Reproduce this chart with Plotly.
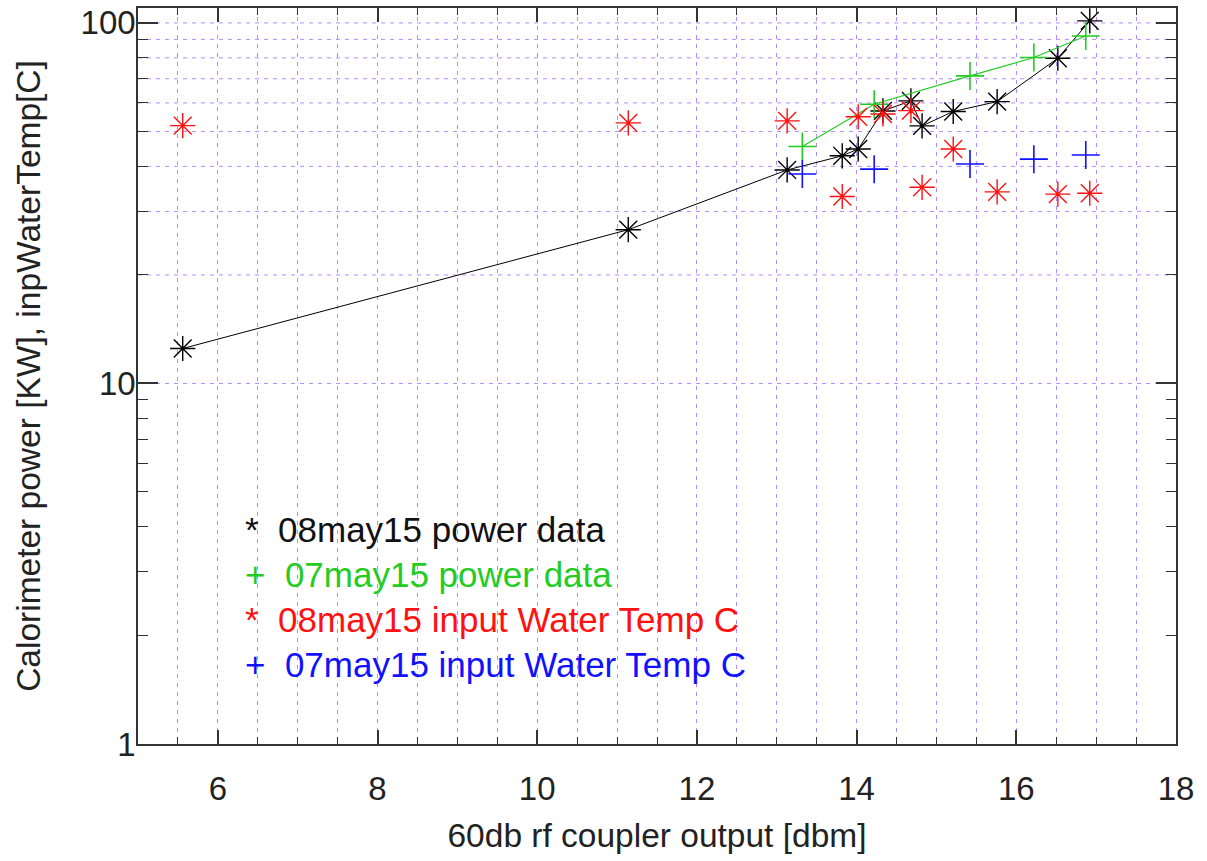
import plotly.graph_objects as go
import math

# ---- data ----
x_0508 = [5.56, 11.14, 13.13, 13.82, 14.02, 14.33, 14.68, 14.82, 15.21, 15.76, 16.52, 16.92]
power_0508 = [12.5, 26.7, 39.1, 42.8, 44.7, 57.0, 60.8, 51.8, 56.8, 60.5, 79.8, 101.3]
water_0508 = [51.9, 52.8, 53.5, 33.0, 54.9, 55.9, 57.1, 35.0, 44.7, 34.0, 33.5, 33.7]

x_0507 = [13.32, 14.22, 15.42, 16.22, 16.87]
power_0507 = [45.4, 59.5, 71.3, 80.2, 92.0]
water_0507 = [38.1, 39.3, 40.6, 41.9, 43.0]

legend_labels = ["08may15 power data", "07may15 power data",
                 "08may15 input Water Temp C", "07may15 input Water Temp C"]
legend_symbols = ["*", "+", "*", "+"]
legend_colors = ["#111111", "#22cc22", "#ff1111", "#1111ff"]

x_range = [5, 18]
y_range_vals = [1, 110]
y_major = [1, 10, 100]
y_minor = [2, 3, 4, 5, 6, 7, 8, 9, 20, 30, 40, 50, 60, 70, 80, 90]
y_grid = [10, 20, 30, 40, 50, 60, 70, 80, 90, 100]

FONT = "Liberation Sans, Arial, Helvetica, sans-serif"
GRID = "#b58cff"
W, H = 1207, 861
ML, MR, MT, MB = 138, 31, 8, 117

fig = go.Figure()
fig.add_trace(go.Scatter(x=x_0508, y=power_0508, mode="lines+markers",
                         line=dict(color="black", width=1),
                         marker=dict(symbol="asterisk-open", size=21, color="black",
                                     line=dict(color="black", width=1.4)),
                         name=legend_labels[0]))
fig.add_trace(go.Scatter(x=x_0507, y=power_0507, mode="lines+markers",
                         line=dict(color="#22cc22", width=1.2),
                         marker=dict(symbol="cross-thin-open", size=20, color="#22cc22",
                                     line=dict(color="#22cc22", width=1.6)),
                         name=legend_labels[1]))
fig.add_trace(go.Scatter(x=x_0508, y=water_0508, mode="markers",
                         marker=dict(symbol="asterisk-open", size=21, color="#ff1111",
                                     line=dict(color="#ff1111", width=1.4)),
                         name=legend_labels[2]))
fig.add_trace(go.Scatter(x=x_0507, y=water_0507, mode="markers",
                         marker=dict(symbol="cross-thin-open", size=20, color="#1111ff",
                                     line=dict(color="#1111ff", width=1.6)),
                         name=legend_labels[3]))

# horizontal dotted grid (only 10..100 in the reference)
for g in y_grid:
    fig.add_shape(type="line", xref="paper", x0=0, x1=1, yref="y", y0=g, y1=g,
                  line=dict(color=GRID, width=1, dash="4px,5px"), layer="below")

# legend drawn as text
pw = W - ML - MR
ph = H - MT - MB
leg_x_px = 243
leg_y_px = [529, 574, 619, 664]
for sym, lab, col, ypx in zip(legend_symbols, legend_labels, legend_colors, leg_y_px):
    fig.add_annotation(xref="paper", yref="paper",
                       x=(leg_x_px - ML) / pw, y=(H - MB - ypx) / ph,
                       xanchor="left", yanchor="middle", showarrow=False,
                       text=sym + "\u00a0\u00a0" + lab,
                       font=dict(family=FONT, size=35, color=col))

fig.update_layout(
    width=W, height=H, autosize=False,
    margin=dict(l=ML, r=MR, t=MT, b=MB, pad=0),
    paper_bgcolor="white", plot_bgcolor="white",
    showlegend=False,
    font=dict(family=FONT, color="#222222"),
)
fig.update_xaxes(
    range=x_range, dtick=2, tick0=0,
    showline=True, linecolor="#333333", linewidth=1.5, mirror="ticks",
    ticks="inside", ticklen=14, tickwidth=1.5, tickcolor="#333333",
    showgrid=True, gridcolor=GRID, gridwidth=1, griddash="4px,5px",
    minor=dict(dtick=0.5, ticks="inside", ticklen=7, tickwidth=1.2, tickcolor="#333333",
               showgrid=True, gridcolor=GRID, gridwidth=1, griddash="4px,5px"),
    tickfont=dict(family=FONT, size=33, color="#222222"),
    ticklabelstandoff=15,
    title=dict(text="60db rf coupler output [dbm]", font=dict(family=FONT, size=33.5, color="#222222"),
               standoff=17),
    zeroline=False, automargin=False,
)
fig.update_yaxes(
    type="log", range=[math.log10(y_range_vals[0]), math.log10(y_range_vals[1])],
    tickvals=y_major, ticktext=[str(v) for v in y_major],
    showline=True, linecolor="#333333", linewidth=1.5, mirror="ticks",
    ticks="inside", ticklen=20, tickwidth=1.5, tickcolor="#333333",
    showgrid=False,
    minor=dict(tickvals=y_minor, ticks="inside", ticklen=10, tickwidth=1.2,
               tickcolor="#333333", showgrid=False),
    tickfont=dict(family=FONT, size=33, color="#222222"),
    ticklabelstandoff=-6,
    title=dict(text="Calorimeter power [KW], inpWaterTemp[C]",
               font=dict(family=FONT, size=33.5, color="#222222"), standoff=30),
    zeroline=False, automargin=False,
)

fig.write_html("out.html", config={"displayModeBar": False},
               post_script="document.body.style.margin='0';document.body.style.overflow='hidden';")
